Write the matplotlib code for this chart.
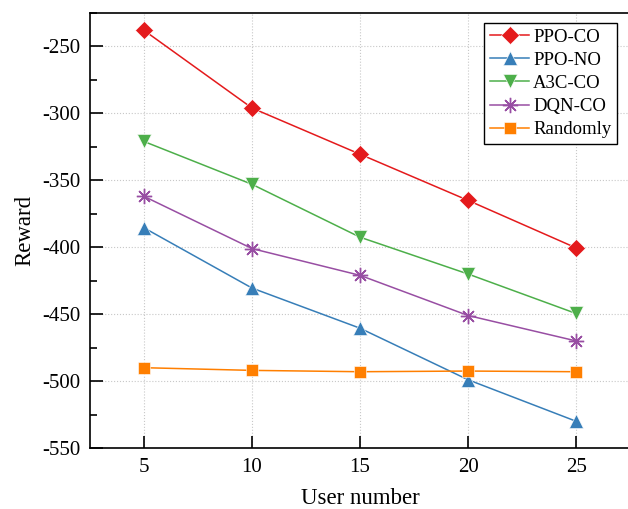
import numpy as np
import matplotlib.pyplot as plt
from matplotlib.ticker import MultipleLocator

plt.rcParams['font.family'] = ['Liberation Serif', 'DejaVu Serif']
plt.rcParams['axes.unicode_minus'] = False

users = [5, 10, 15, 20, 25]
ppo_co = [-238, -296, -330.5, -365, -400.5]
ppo_no = [-385.5, -430.5, -460.5, -499, -530]
a3c_co = [-321, -353, -392.5, -420, -449.5]
dqn_co = [-362, -401, -421, -451, -470]
randomly = [-490, -492, -493, -492.5, -493]

fig = plt.figure(figsize=(6.28, 5.09), dpi=100)
ax = fig.add_axes([0.1433, 0.1198, 0.86, 0.8547])

ax.plot(users, ppo_co, color='#e41a1c', marker='D', ms=9, mec='white', mew=0.4, lw=1.1, label='PPO-CO')
ax.plot(users, ppo_no, color='#377eb8', marker='^', ms=10, mec='white', mew=0.4, lw=1.1, label='PPO-NO')
ax.plot(users, a3c_co, color='#4daf4a', marker='v', ms=10, mec='white', mew=0.4, lw=1.1, label='A3C-CO')
ax.plot(users, dqn_co, color='#984ea3', marker=(8, 2, 0), ms=11, mew=1.0, lw=1.1, label='DQN-CO')
ax.plot(users, randomly, color='#ff7f00', marker='s', ms=9, mec='white', mew=0.4, lw=1.1, label='Randomly')

ax.set_xlim(2.5, 27.5)
ax.set_ylim(-550, -225)
ax.set_xticks(users)
ax.yaxis.set_major_locator(MultipleLocator(50))
ax.yaxis.set_minor_locator(MultipleLocator(25))
ax.tick_params(axis='both', which='major', direction='in', length=9, width=1.2, labelsize=15, pad=7)
ax.tick_params(axis='y', which='minor', direction='in', length=5, width=1.2)
ax.grid(True, which='major', color='#c8c8c8', linestyle=':', linewidth=0.8)
for s in ax.spines.values():
    s.set_linewidth(1.2)
ax.spines['right'].set_visible(False)

ax.set_xlabel('User number', fontsize=16.5, labelpad=8)
ax.set_ylabel('Reward', fontsize=16.5, labelpad=5)

leg = ax.legend(loc='upper right', bbox_to_anchor=(0.976, 0.977), fontsize=13.5, fancybox=False,
                edgecolor='black', framealpha=1, handlelength=2.1, borderpad=0.3, labelspacing=0.32,
                handletextpad=0.2, borderaxespad=0)
leg.get_frame().set_linewidth(1.0)

fig.savefig('out.png', dpi=100)
